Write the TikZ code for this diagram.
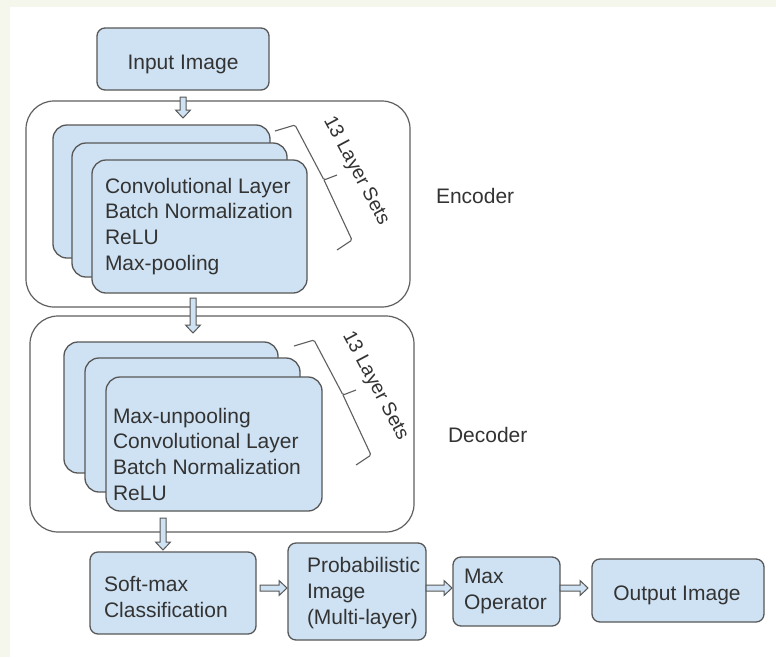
\documentclass[tikz,border=0pt]{standalone}
\usepackage{fontspec}
\setmainfont{Liberation Sans}
\usetikzlibrary{calc}
\definecolor{boxfill}{HTML}{CFE2F3}
\definecolor{boxline}{HTML}{575757}
\definecolor{contline}{HTML}{5F5F5F}
\definecolor{txt}{HTML}{333333}
\definecolor{cream}{HTML}{F5F7EC}
\tikzset{
  box/.style={draw=boxline, fill=boxfill, line width=1.3pt, rounded corners=8pt,
    anchor=north west, inner sep=0pt, outer sep=0pt},
  card/.style={box, rounded corners=14pt},
  cont/.style={draw=contline, fill=white, line width=1.2pt, rounded corners=28pt,
    anchor=north west, inner sep=0pt, outer sep=0pt},
  lbl/.style={text=txt, font=\fontsize{21}{25.6}\selectfont, inner sep=0pt, outer sep=0pt},
  setlbl/.style={text=txt, font=\fontsize{19.5}{23}\selectfont, inner sep=0pt, rotate=-62},
  bracket/.style={draw=contline, line width=1.1pt, rounded corners=1.5pt},
  harrow/.style={draw=boxline, fill=boxfill, line width=1pt, line join=miter},
  hdown/.style={harrow, to path={let \p1=(\tikztostart), \p2=(\tikztotarget) in
    (\x1-3pt,\y1) -- (\x1+3pt,\y1) -- (\x1+3pt,\y2+8pt) -- (\x1+7.5pt,\y2+8pt)
    -- (\x1,\y2) -- (\x1-7.5pt,\y2+8pt) -- (\x1-3pt,\y2+8pt) -- cycle}},
  hright/.style={harrow, to path={let \p1=(\tikztostart), \p2=(\tikztotarget) in
    (\x1,\y1-3pt) -- (\x2-8pt,\y1-3pt) -- (\x2-8pt,\y1-7.5pt) -- (\x2,\y1)
    -- (\x2-8pt,\y1+7.5pt) -- (\x2-8pt,\y1+3pt) -- (\x1,\y1+3pt) -- cycle}}
}
\begin{document}
\begin{tikzpicture}[x=1pt,y=1pt]
\useasboundingbox (0,0) rectangle (776,-657);
\fill[cream] (0,0) rectangle (776,-657);
\fill[white] (10,-7) rectangle (776,-657);

% input
\node[box, minimum width=172pt, minimum height=62pt] (inp) at (97,-28) {};
\node[lbl, anchor=base] (inptxt) at (183,-69) {Input Image};

% encoder
\node[cont, minimum width=384pt, minimum height=206pt] (enc) at (26,-101) {};
\node[card, minimum width=217pt, minimum height=133pt] (e1) at (53,-125) {};
\node[card, minimum width=215pt, minimum height=134pt] (e2) at (72,-143) {};
\node[card, minimum width=215pt, minimum height=133pt] (e3) at (92,-160) {};
\node[lbl, anchor=base west] (etxt) at (105,-270) {\begin{tabular}[b]{@{}l@{}}Convolutional Layer\\Batch Normalization\\ReLU\\Max-pooling\end{tabular}};
\draw[bracket] (275,-131) -- (295,-125) -- (324,-180) -- (337,-175)
  (324,-180) -- (352,-240) -- (337,-250);
\node[setlbl] (eset) at (356,-171) {13 Layer Sets};
\node[lbl, anchor=west] (enclbl) at (436,-196) {Encoder};

% decoder
\node[cont, minimum width=384pt, minimum height=216pt] (dec) at (30,-316) {};
\node[card, minimum width=214pt, minimum height=131pt] (d1) at (64,-342) {};
\node[card, minimum width=215pt, minimum height=134pt] (d2) at (85,-358) {};
\node[card, minimum width=216pt, minimum height=134pt] (d3) at (106,-377) {};
\node[lbl, anchor=base west] (dtxt) at (113,-500) {\begin{tabular}[b]{@{}l@{}}Max-unpooling\\Convolutional Layer\\Batch Normalization\\ReLU\end{tabular}};
\draw[bracket] (294,-346) -- (314,-340) -- (343,-395) -- (356,-390)
  (343,-395) -- (371,-455) -- (356,-465);
\node[setlbl] (dset) at (375,-386) {13 Layer Sets};
\node[lbl, anchor=west] (declbl) at (448,-435) {Decoder};

% bottom row
\node[box, minimum width=166pt, minimum height=82pt] (sm) at (90,-552) {};
\node[lbl, anchor=base west] (smtxt) at (104,-617) {\begin{tabular}[b]{@{}l@{}}Soft-max\\Classification\end{tabular}};
\node[box, minimum width=138pt, minimum height=97pt] (prob) at (288,-543) {};
\node[lbl, anchor=base west] (probtxt) at (307,-624) {\begin{tabular}[b]{@{}l@{}}Probabilistic\\Image\\(Multi-layer)\end{tabular}};
\node[box, minimum width=107pt, minimum height=69pt] (maxop) at (453,-557) {};
\node[lbl, anchor=base west] (maxtxt) at (464,-609) {\begin{tabular}[b]{@{}l@{}}Max\\Operator\end{tabular}};
\node[box, minimum width=172pt, minimum height=63pt] (out) at (592,-559) {};
\node[lbl, anchor=base] (outtxt) at (677,-600) {Output Image};

% arrows
\draw[hdown] ($(inp.south)+(0,-7)$) to ($(inp.south |- e1.north)+(0,7)$);
\draw[hdown] ($(e3.south)+(-6.5,-5)$) to ($(e3.south |- d1.north)+(-6.5,9)$);
\draw[hdown] ($(d3.south -| sm.north)+(-10,-7)$) to ($(sm.north)+(-10,2)$);
\draw[hright] ($(sm.east)+(4,5)$) to ($(prob.west)+(-1,5)$);
\draw[hright] ($(prob.east)+(0,3.5)$) to ($(maxop.west)+(-1,3.5)$);
\draw[hright] ($(maxop.east)+(0,3.5)$) to ($(out.west)+(-4,3.5)$);
\end{tikzpicture}
\end{document}
